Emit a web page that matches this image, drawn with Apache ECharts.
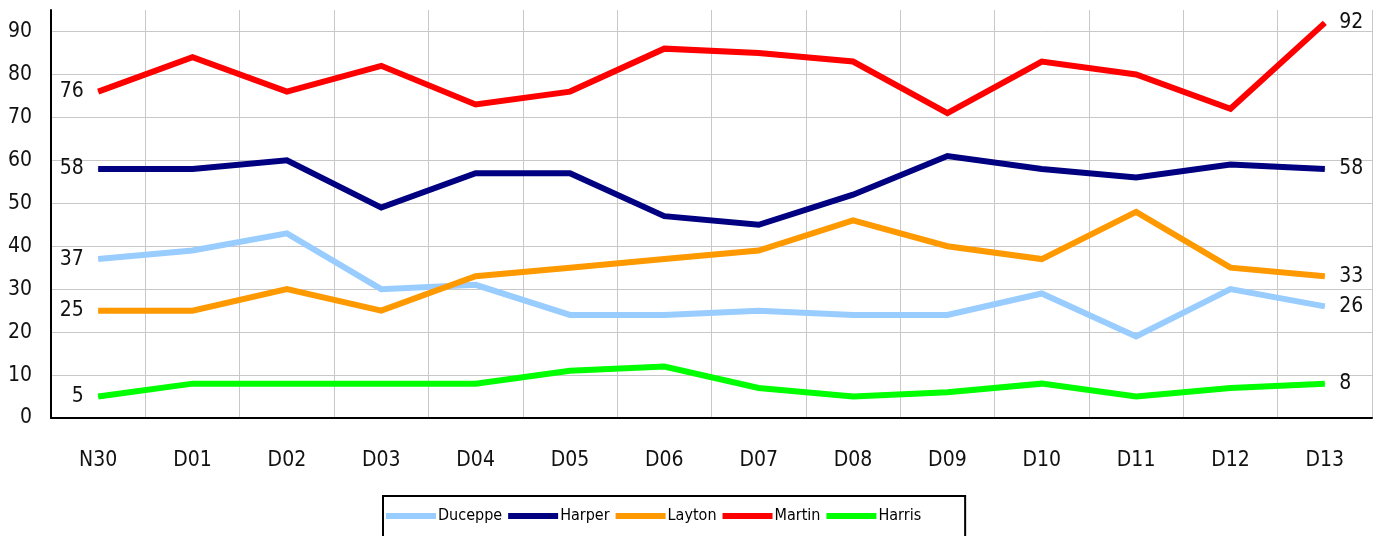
<!DOCTYPE html>
<html>
<head>
<meta charset="utf-8">
<script src="https://cdn.jsdelivr.net/npm/echarts@6/dist/echarts.min.js"></script>
<style>
  html, body { margin: 0; padding: 0; background: #fff; }
  #chart { width: 1378px; height: 536px; }
</style>
</head>
<body>
<div id="chart"></div>
<script>
const days = ['N30', 'D01', 'D02', 'D03', 'D04', 'D05', 'D06', 'D07', 'D08', 'D09', 'D10', 'D11', 'D12', 'D13'];

const duceppe = [37, 39, 43, 30, 31, 24, 24, 25, 24, 24, 29, 19, 30, 26];
const harper  = [58, 58, 60, 49, 57, 57, 47, 45, 52, 61, 58, 56, 59, 58];
const layton  = [25, 25, 30, 25, 33, 35, 37, 39, 46, 40, 37, 48, 35, 33];
const martin  = [76, 84, 76, 82, 73, 76, 86, 85, 83, 71, 83, 80, 72, 92];
const harris  = [5, 8, 8, 8, 8, 11, 12, 7, 5, 6, 8, 5, 7, 8];

const font = '"DejaVu Sans Condensed", "Liberation Sans Narrow", sans-serif';

// only first and last points get a value label
function endLabels(values) {
  const last = values.length - 1;
  return values.map((v, i) => {
    if (i === 0) return { value: v, label: { show: true, position: 'left' } };
    if (i === last) return { value: v, label: { show: true, position: 'right' } };
    return v;
  });
}

function makeSeries(name, values, color) {
  return {
    name: name,
    type: 'line',
    data: endLabels(values),
    symbol: 'circle',
    symbolSize: 1,
    showSymbol: true,
    itemStyle: { color: color },
    lineStyle: { color: color, width: 6, cap: 'butt', join: 'miter' },
    label: {
      show: false,
      distance: 14,
      color: '#111',
      fontFamily: font,
      fontSize: 21
    },
    emphasis: { disabled: true }
  };
}

const chart = echarts.init(document.getElementById('chart'));

chart.setOption({
  animation: false,
  backgroundColor: '#fff',
  grid: { left: 51, right: 6, top: 10, bottom: 118 },
  legend: {
    left: 383,
    top: 496,
    padding: [12, 44, 20, 3],
    borderColor: '#000',
    borderWidth: 2,
    itemWidth: 50,
    itemHeight: 6,
    itemGap: 6,
    icon: 'rect',
    itemStyle: { borderWidth: 0 },
    textStyle: { fontFamily: font, fontSize: 16, color: '#000', padding: [0, 0, 0, -3] },
    data: ['Duceppe', 'Harper', 'Layton', 'Martin', 'Harris']
  },
  xAxis: {
    type: 'category',
    data: days,
    boundaryGap: true,
    axisLine: { lineStyle: { color: '#000', width: 2 } },
    axisTick: { show: false },
    axisLabel: { fontFamily: font, fontSize: 21, color: '#111', margin: 32 },
    splitLine: { show: true, lineStyle: { color: '#c8c8c8', width: 1 } }
  },
  yAxis: {
    type: 'value',
    min: 0,
    max: 95,
    interval: 10,
    axisLine: { show: true, lineStyle: { color: '#000', width: 2 } },
    axisTick: { show: false },
    axisLabel: {
      fontFamily: font, fontSize: 21, color: '#111', margin: 19,
      formatter: v => (v % 10 === 0 ? String(v) : '')
    },
    splitLine: {
      show: true,
      lineStyle: {
        color: ['#c8c8c8', '#c8c8c8', '#c8c8c8', '#c8c8c8', '#c8c8c8', '#c8c8c8',
                '#c8c8c8', '#c8c8c8', '#c8c8c8', '#c8c8c8', 'rgba(0,0,0,0)'],
        width: 1
      }
    }
  },
  series: [
    makeSeries('Duceppe', duceppe, '#99ccff'),
    makeSeries('Harper', harper, '#000080'),
    makeSeries('Layton', layton, '#ff9900'),
    makeSeries('Martin', martin, '#ff0000'),
    makeSeries('Harris', harris, '#00ff00')
  ]
});
</script>
</body>
</html>
